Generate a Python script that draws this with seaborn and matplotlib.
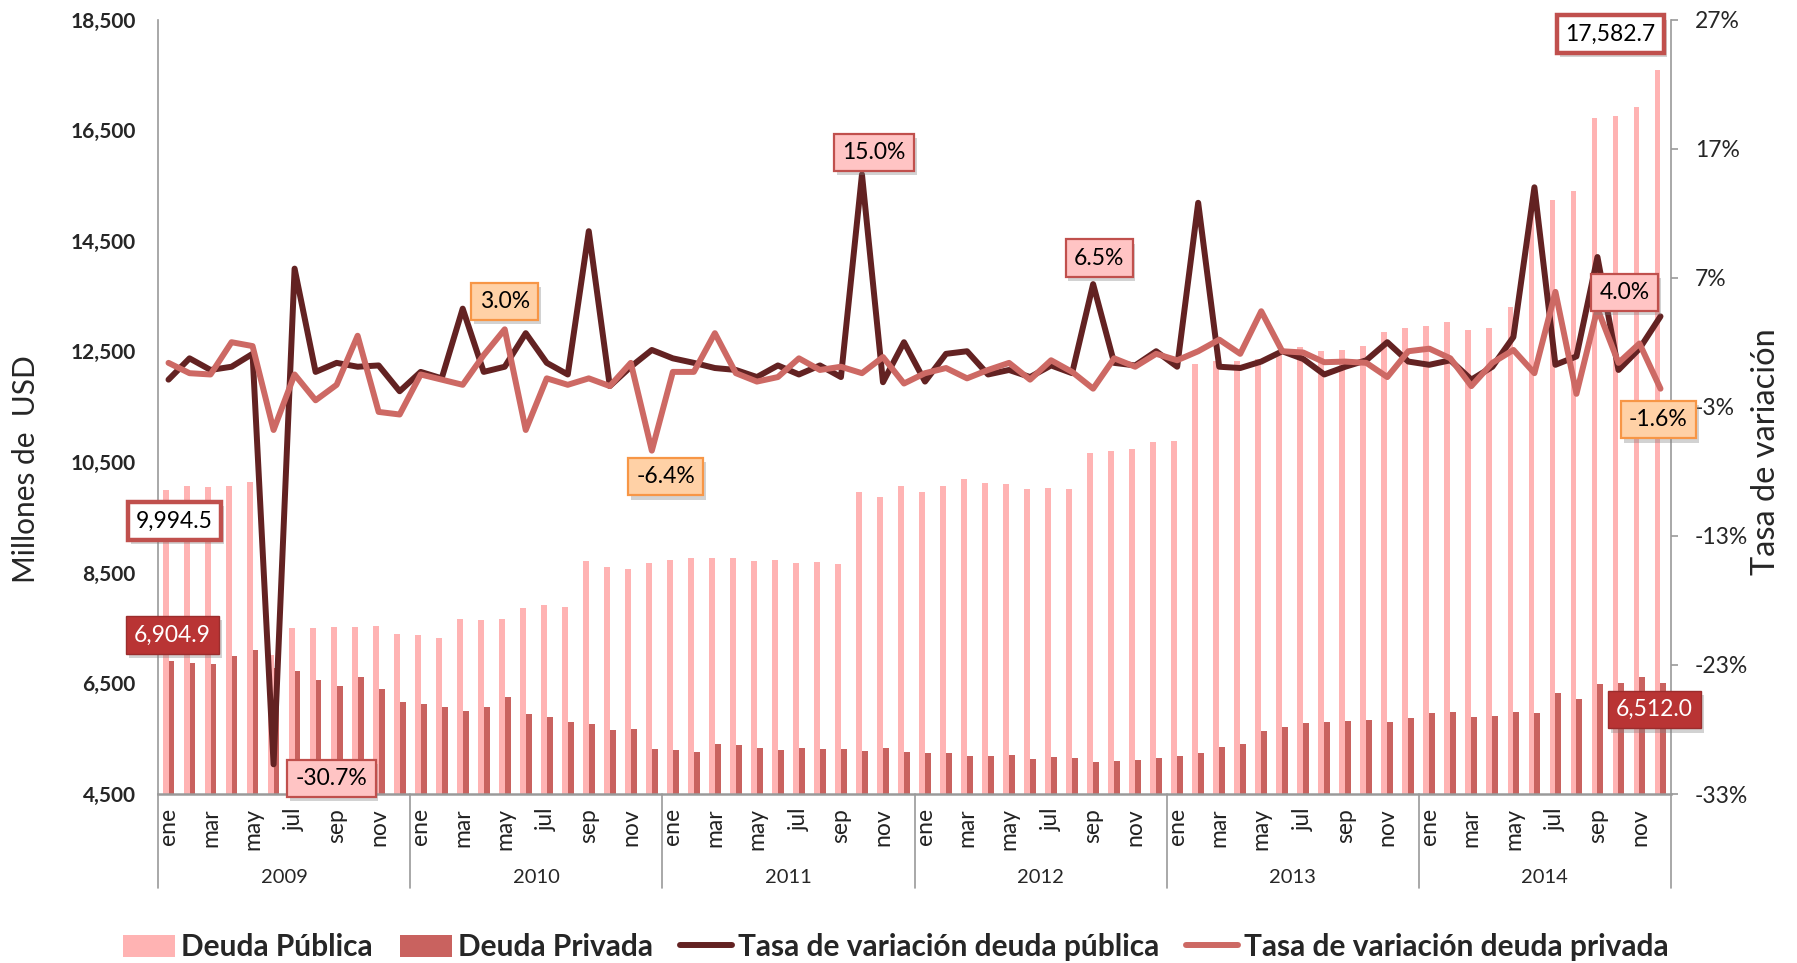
import numpy as np
import pandas as pd
import matplotlib
matplotlib.use("Agg")
import matplotlib.pyplot as plt
import matplotlib.patheffects as pe
import matplotlib.transforms as mtransforms
from matplotlib.patches import Patch
from matplotlib.lines import Line2D
import seaborn as sns

# ---------------- data ----------------
years = ["2009", "2010", "2011", "2012", "2013", "2014"]
months = ["ene", "feb", "mar", "abr", "may", "jun", "jul", "ago", "sep", "oct", "nov", "dic"]

deuda_publica = [
    9994.5, 10070, 10058, 10060, 10137, 7020, 7505, 7493, 7523, 7523, 7541, 7397,
    7373, 7324, 7662, 7650, 7662, 7860, 7908, 7878, 8709, 8601, 8571, 8679,
    8733, 8770, 8764, 8775, 8709, 8727, 8679, 8697, 8661, 9956, 9872, 10064,
    9956, 10070, 10185, 10125, 10107, 10022, 10034, 10010, 10660, 10700, 10735, 10855,
    10879, 12270, 12319, 12322, 12360, 12432, 12575, 12508, 12523, 12595, 12843, 12915,
    12957, 13024, 12890, 12921, 13306, 15190, 15234, 15391, 16727, 16757, 16920, 17582.7,
]
deuda_privada = [
    6904.9, 6867, 6843, 6987, 7108, 6770, 6728, 6560, 6457, 6608, 6391, 6156,
    6120, 6078, 5993, 6066, 6252, 5939, 5885, 5807, 5759, 5662, 5668, 5307,
    5289, 5259, 5397, 5379, 5325, 5289, 5325, 5307, 5307, 5283, 5325, 5259,
    5235, 5235, 5180, 5180, 5199, 5138, 5162, 5144, 5072, 5102, 5108, 5150,
    5180, 5240, 5350, 5400, 5635, 5708, 5775, 5798, 5828, 5846, 5810, 5877,
    5960, 5983, 5893, 5904, 5983, 5971, 6326, 6211, 6482, 6507, 6621, 6512.0,
]
tasa_publica = [
    -0.9, 0.75, -0.15, 0.1, 1.1, -30.7, 7.7, -0.3, 0.4, 0.1, 0.2, -1.8,
    -0.3, -0.8, 4.6, -0.3, 0.1, 2.7, 0.4, -0.5, 10.6, -1.4, 0.1, 1.4,
    0.75, 0.4, 0.0, -0.15, -0.7, 0.2, -0.5, 0.2, -0.7, 15.0, -1.1, 2.0,
    -1.05, 1.1, 1.3, -0.5, -0.15, -0.7, 0.2, -0.4, 6.5, 0.4, 0.2, 1.3,
    0.1, 12.8, 0.1, 0.0, 0.5, 1.3, 0.7, -0.5, 0.1, 0.6, 2.0, 0.5,
    0.25, 0.6, -0.9, 0.1, 2.4, 14.0, 0.25, 0.9, 8.6, -0.15, 1.5, 4.0,
]
tasa_privada = [
    0.4, -0.4, -0.5, 2.0, 1.7, -4.8, -0.5, -2.5, -1.3, 2.5, -3.4, -3.6,
    -0.5, -0.9, -1.3, 1.0, 3.0, -4.8, -0.8, -1.3, -0.8, -1.4, 0.4, -6.4,
    -0.3, -0.3, 2.7, -0.4, -1.05, -0.7, 0.75, -0.15, 0.1, -0.4, 0.85, -1.2,
    -0.4, 0.0, -0.8, -0.15, 0.4, -0.9, 0.6, -0.3, -1.6, 0.75, 0.1, 1.1,
    0.6, 1.3, 2.2, 1.1, 4.4, 1.3, 1.2, 0.45, 0.5, 0.4, -0.7, 1.3,
    1.5, 0.75, -1.4, 0.4, 1.4, -0.4, 5.9, -2.0, 4.6, 0.4, 1.9, -1.6,
]

# ---------------- style ----------------
PINK = "#FFB3B3"
RED = "#C9625F"
DARK = "#632222"
LIGHT = "#CD6964"
GRID = "#9A9A9A"

sns.set_theme(style="white")
plt.rcParams["font.family"] = ["Lato", "DejaVu Sans"]

W, H = 1797, 963
fig = plt.figure(figsize=(W / 100, H / 100), dpi=100)
L, R, T, B = 158, 1671, 19.5, 794
ax = fig.add_axes([L / W, 1 - B / H, (R - L) / W, (B - T) / H])

n = len(deuda_publica)
idx = np.arange(n)
df_bars = pd.DataFrame({
    "mes": np.tile(idx, 2),
    "valor": deuda_publica + deuda_privada,
    "serie": ["Deuda Pública"] * n + ["Deuda Privada"] * n,
})
sns.barplot(data=df_bars, x="mes", y="valor", hue="serie",
            palette=[PINK, RED], width=0.56, saturation=1, linewidth=0,
            errorbar=None, legend=False, ax=ax)

ax.set_xlim(-0.5, n - 0.5)
ax.set_ylim(4500, 18500)
ax.set_yticks(np.arange(4500, 18501, 2000))
ax.set_yticklabels([f"{v:,.0f}" for v in np.arange(4500, 18501, 2000)],
                   fontsize=15, fontweight="bold")
ax.tick_params(axis="y", length=0, pad=16)
ax.set_xticks(idx[::2])
ax.set_xticklabels([months[i % 12] for i in idx[::2]], rotation=90,
                   fontsize=16.5, color="#222222")
ax.tick_params(axis="x", length=0, pad=10)
ax.set_xlabel("")
ax.set_ylabel("")
for s in ["top", "right"]:
    ax.spines[s].set_visible(False)
ax.spines["left"].set_color(GRID)
ax.spines["left"].set_linewidth(1.2)
ax.spines["bottom"].set_color(GRID)
ax.spines["bottom"].set_linewidth(1.8)

# secondary axis with rates
ax2 = ax.twinx()
sns.lineplot(x=idx, y=tasa_publica, ax=ax2, color=DARK, linewidth=4.3,
             legend=False, solid_joinstyle="round", solid_capstyle="round")
sns.lineplot(x=idx, y=tasa_privada, ax=ax2, color=LIGHT, linewidth=4.3,
             legend=False, solid_joinstyle="round", solid_capstyle="round")
ax2.set_xlim(-0.5, n - 0.5)
ax2.set_ylim(-33, 27)
rt = np.arange(-33, 28, 10)
ax2.set_yticks(rt)
ax2.set_yticklabels([f"{v}%" for v in rt], fontsize=16.5)
ax2.tick_params(axis="y", length=5, width=1.2, color=GRID, pad=12)
ax2.set_ylabel("")
for s in ["top", "left", "bottom"]:
    ax2.spines[s].set_visible(False)
ax2.spines["right"].set_color(GRID)
ax2.spines["right"].set_linewidth(1.2)

# category axis: year separators and labels
blend = mtransforms.blended_transform_factory(ax.transData, ax.transAxes)
depth = (888 - B) / (B - T)
for k in range(len(years) + 1):
    xb = k * 12 - 0.5
    ax.plot([xb, xb], [0, -depth], transform=blend, color=GRID, lw=1.2,
            clip_on=False)
for k, yr in enumerate(years):
    ax.text(k * 12 + 5.5, -(877 - B) / (B - T), yr, transform=blend,
            ha="center", va="center", fontsize=14.5)

fig.text(25.8 / W, 1 - 469 / H, "Millones de  USD", rotation=90,
         ha="center", va="center", fontsize=21.5)
fig.text(1766 / W, 1 - 451.5 / H, "Tasa de variación", rotation=90,
         ha="center", va="center", fontsize=23.5)

# data labels
styles = {
    "white": dict(boxstyle="square,pad=0.36", fc="white", ec="#C0504D", lw=3.2),
    "red": dict(boxstyle="square,pad=0.36", fc="#B93434", ec="#9B2D2D", lw=1.0),
    "pink": dict(boxstyle="square,pad=0.36", fc="#FFC4C4", ec="#C0504D", lw=1.6),
    "orange": dict(boxstyle="square,pad=0.36", fc="#FFD1A6", ec="#F79646", lw=1.6),
}


def label(trans, x, y, text, dx, dy, style, color="black"):
    t = ax2.annotate(text, xy=(x, y), xycoords=trans, xytext=(dx, dy),
                     textcoords="offset pixels", ha="center", va="center",
                     fontsize=16.5, color=color, bbox=styles[style],
                     zorder=10, annotation_clip=False)
    t.get_bbox_patch().set_path_effects(
        [pe.withSimplePatchShadow(offset=(2, -3), shadow_rgbFace="#7f7f7f", alpha=0.35)])
    return t


label(ax.transData, 0 - 0.14, deuda_publica[0], f"{deuda_publica[0]:,.1f}", 9, -31, "white")
label(ax.transData, 0 + 0.14, deuda_privada[0], f"{deuda_privada[0]:,.1f}", 1, 26, "red", "white")
label(ax.transData, n - 1 - 0.14, deuda_publica[-1], f"{deuda_publica[-1]:,.1f}", -47, 36, "white")
label(ax.transData, n - 1 + 0.14, deuda_privada[-1], f"{deuda_privada[-1]:,.1f}", -9, -27, "red", "white")

for i, dx, dy in [(5, 58, -14), (33, 12, 22), (44, 6, 26), (n - 1, -36, 24)]:
    label(ax2.transData, i, tasa_publica[i], f"{tasa_publica[i]:.1f}%", dx, dy, "pink")
for i, dx, dy in [(16, 0, 28), (23, 14, -26), (n - 1, -2, -31)]:
    label(ax2.transData, i, tasa_privada[i], f"{tasa_privada[i]:.1f}%", dx, dy, "orange")

# legend
handles = [
    Patch(facecolor=PINK, edgecolor="none"),
    Patch(facecolor=RED, edgecolor="none"),
    Line2D([0], [0], color=DARK, lw=4.3),
    Line2D([0], [0], color=LIGHT, lw=4.3),
]
labels = ["Deuda Pública", "Deuda Privada",
          "Tasa de variación deuda pública", "Tasa de variación deuda privada"]
fig.legend(handles, labels, loc="center", bbox_to_anchor=(0.4986, 0.0166),
           ncol=4, frameon=False, prop={"weight": "bold", "size": 21.5},
           handlelength=1.75, handleheight=0.75, handletextpad=0.2,
           columnspacing=0.9, borderpad=0)

fig.savefig("out.png", dpi=100)
